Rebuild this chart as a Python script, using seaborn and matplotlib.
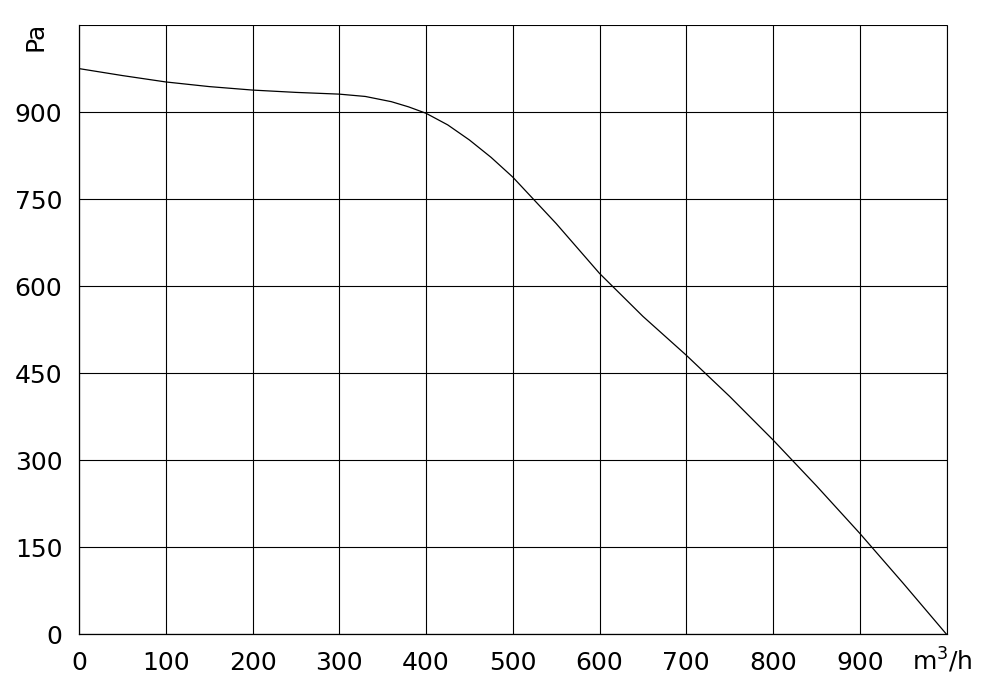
import seaborn as sns
import matplotlib.pyplot as plt
import pandas as pd

# fan curve
flow = [0, 50, 100, 150, 200, 250, 300, 330, 360, 380, 400, 425, 450, 475, 500,
        550, 600, 650, 700, 750, 800, 850, 900, 950, 1000]
pressure = [975, 963, 952, 944, 938, 934, 931, 927, 918, 909, 898, 878, 852, 822, 788,
            708, 622, 548, 481, 410, 335, 256, 174, 88, 0]
x_ticks = [0, 100, 200, 300, 400, 500, 600, 700, 800, 900]
y_ticks = [0, 150, 300, 450, 600, 750, 900]

df = pd.DataFrame({'flow': flow, 'pressure': pressure})

sns.set_style("white")
fig, ax = plt.subplots(figsize=(9.88, 6.97), dpi=100)
fig.subplots_adjust(left=0.08, right=0.958, top=0.964, bottom=0.09)

sns.lineplot(data=df, x='flow', y='pressure', color='black', linewidth=0.9, ax=ax)

ax.set_xlim(0, 1000)
ax.set_ylim(0, 1050)
ax.set_xticks(x_ticks + [1000])
ax.set_xticklabels([str(t) for t in x_ticks] + [''])
ax.set_yticks(y_ticks + [1050])
ax.set_yticklabels([str(t) for t in y_ticks] + [''])
ax.tick_params(labelsize=18, length=0, pad=12, labelcolor='black')
ax.grid(True, color='black', linewidth=0.8)
ax.axvline(1000, color='black', linewidth=0.8, clip_on=False)
for s in ['top', 'right']:
    ax.spines[s].set_visible(False)
for s in ['left', 'bottom']:
    ax.spines[s].set_color('black')
    ax.spines[s].set_linewidth(0.9)
ax.set_xlabel('')
ax.set_ylabel('')
ax.text(995, -20, 'm$^3$/h', fontsize=18, ha='center', va='top', color='black')
ax.text(-50, 1055, 'Pa', fontsize=18, rotation=90, ha='center', va='top', color='black')

plt.savefig('out.png')
